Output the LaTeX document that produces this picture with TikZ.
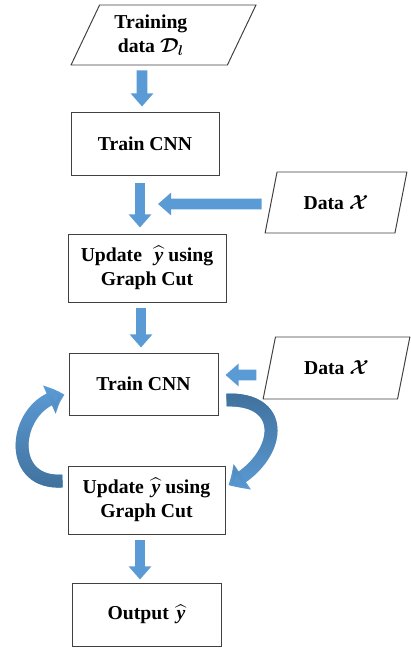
\documentclass[tikz,border=0pt]{standalone}
\usepackage{fontspec}
\setmainfont{Liberation Serif}
\usepackage{amsmath}
\usetikzlibrary{arrows.meta,bending,shapes.geometric,fadings}

\definecolor{arrowblue}{HTML}{5B9BD5}
\definecolor{arrowdark}{HTML}{41719C}
\definecolor{boxline}{HTML}{404040}

% one unit of the drawing
\newlength\pxl
\setlength\pxl{0.025cm}

% label with a hat, set in the text font
\newcommand\predlabel{\kern2pt$\widehat{\textit{y}}$}

\tikzset{
  stepbox/.style={draw=boxline, line width=0.7pt, align=center, inner sep=0pt,
    font=\fontsize{14}{17.5}\selectfont\bfseries\boldmath},
  databox/.style={stepbox, trapezium, trapezium stretches=true,
    trapezium left angle=65, trapezium right angle=115},
  blockarrow/.style={arrowblue, line width=7.8pt, -{Triangle[width=15.6pt,length=9.3pt]}},
  loopline/.style={line width=9.2pt, -{Triangle[width=21pt,length=11.5pt,bend]}},
}

\begin{document}
\begin{tikzpicture}[x=0.025cm, y=-0.025cm]
    \useasboundingbox (0,0) rectangle (411,650);

    % inputs and steps
    \node[databox, trapezium left angle=62, trapezium right angle=118,
      minimum width=185\pxl, minimum height=60\pxl] (traindata) at (163.5,35)
      {Training\hspace*{18pt}\\data $\mathcal{D}_l$\hspace*{18pt}};
    \node[stepbox, minimum width=148\pxl, minimum height=63\pxl] (train1) at (145,143.5) {Train CNN};
    \node[databox, minimum width=142\pxl, minimum height=61\pxl] (datax1) at (336,202.5) {Data $\mathcal{X}$};
    \node[stepbox, minimum width=158\pxl, minimum height=68\pxl] (update1) at (147,268) {Update \ \predlabel{} using\\Graph Cut};
    \node[stepbox, minimum width=149\pxl, minimum height=62\pxl] (train2) at (143.5,384) {Train CNN};
    \node[databox, minimum width=147\pxl, minimum height=62\pxl] (datax2) at (336.5,368) {Data $\mathcal{X}$};
    \node[stepbox, minimum width=157\pxl, minimum height=68\pxl] (update2) at (146.5,500) {Update \predlabel{} using\\Graph Cut};
    \node[stepbox, minimum width=149\pxl, minimum height=63\pxl] (output) at (146.5,614.5) {Output \predlabel};

    \coordinate (join1) at (158,204);

    % straight arrows
    \draw[blockarrow, shorten <=5\pxl, shorten >=5\pxl] ([xshift=-21.5\pxl]traindata.south) -- ([xshift=-3\pxl]train1.north);
    \draw[blockarrow, shorten <=8\pxl, shorten >=6\pxl] ([xshift=-5\pxl]train1.south) -- ([xshift=-7\pxl]update1.north);
    \draw[blockarrow, shorten <=9\pxl] ([yshift=-1.5\pxl]datax1.west) -- (join1);
    \draw[blockarrow, shorten <=6\pxl, shorten >=5\pxl] ([xshift=-6\pxl]update1.south) -- ([xshift=-2.5\pxl]train2.north);
    \draw[blockarrow, shorten <=12.5\pxl, shorten >=7\pxl] ([yshift=-7\pxl]datax2.west) -- ([yshift=9\pxl]train2.east);
    \draw[blockarrow, shorten <=6\pxl, shorten >=3\pxl] ([xshift=-6.5\pxl]update2.south) -- ([xshift=-6.5\pxl]output.north);

    % loop between training and graph cut
    \draw[loopline, arrowblue] ([xshift=8\pxl,yshift=-16\pxl]train2.east) .. controls +(64,-2) and +(52,-25) .. ([xshift=3\pxl,yshift=15\pxl]update2.east);
    \draw[loopline, arrowdark, path fading=south] ([xshift=8\pxl,yshift=-16\pxl]train2.east) .. controls +(64,-2) and +(52,-25) .. ([xshift=3\pxl,yshift=15\pxl]update2.east);
    \draw[loopline, arrowblue] ([xshift=-5\pxl,yshift=19\pxl]update2.west) .. controls +(-60,4) and +(-50,5) .. ([xshift=-4\pxl,yshift=-11\pxl]train2.west);
    \draw[loopline, arrowdark, path fading=north] ([xshift=-5\pxl,yshift=19\pxl]update2.west) .. controls +(-60,4) and +(-50,5) .. ([xshift=-4\pxl,yshift=-11\pxl]train2.west);
\end{tikzpicture}
\end{document}
